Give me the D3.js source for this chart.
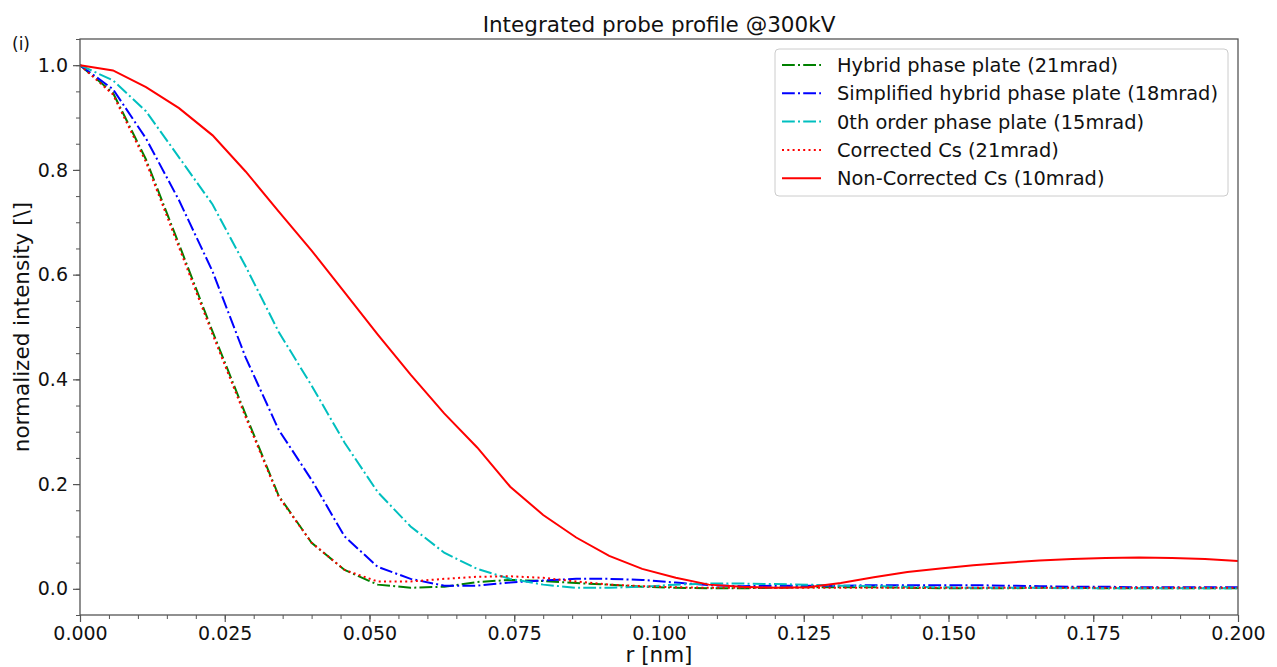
<!DOCTYPE html>
<html>
<head>
<meta charset="utf-8">
<script src="https://cdn.jsdelivr.net/npm/d3@7"></script>
<style>
  body { margin: 0; background: #fff; }
  svg { font-family: "DejaVu Sans", sans-serif; }
</style>
</head>
<body>
<svg id="chart" width="1277" height="667"></svg>
<script>
// radius samples (nm)
var rValues = [0, 0.0057, 0.0114, 0.0171, 0.0229, 0.0286, 0.0343, 0.04, 0.0457, 0.0514,
  0.0571, 0.0629, 0.0686, 0.0743, 0.08, 0.0857, 0.0914, 0.0971, 0.1029, 0.1086,
  0.1143, 0.12, 0.1257, 0.1314, 0.1371, 0.1429, 0.1486, 0.1543, 0.16, 0.1657,
  0.1714, 0.1771, 0.1829, 0.1886, 0.1943, 0.2];

var hybrid = [1.0, 0.947, 0.820, 0.658, 0.491, 0.333, 0.178, 0.088, 0.036, 0.008,
  0.002, 0.004, 0.013, 0.017, 0.015, 0.011, 0.008, 0.004, 0.002, 0.001,
  0.001, 0.002, 0.003, 0.003, 0.003, 0.002, 0.001, 0.001, 0.001, 0.002,
  0.002, 0.001, 0.001, 0.001, 0.001, 0.001];
var simplified = [1.0, 0.954, 0.860, 0.742, 0.606, 0.442, 0.304, 0.208, 0.100, 0.042,
  0.019, 0.006, 0.006, 0.012, 0.016, 0.019, 0.019, 0.017, 0.012, 0.007,
  0.005, 0.006, 0.006, 0.006, 0.007, 0.007, 0.007, 0.007, 0.006, 0.005,
  0.004, 0.004, 0.003, 0.003, 0.003, 0.003];
var zeroth = [1.0, 0.971, 0.912, 0.824, 0.734, 0.616, 0.491, 0.388, 0.279, 0.185,
  0.119, 0.069, 0.038, 0.019, 0.008, 0.002, 0.002, 0.004, 0.008, 0.010,
  0.010, 0.009, 0.008, 0.006, 0.005, 0.004, 0.003, 0.002, 0.002, 0.002,
  0.001, 0.001, 0.001, 0.001, 0.001, 0.001];
var correctedCs = [1.0, 0.944, 0.815, 0.652, 0.486, 0.328, 0.176, 0.088, 0.036, 0.014,
  0.014, 0.019, 0.023, 0.024, 0.021, 0.014, 0.008, 0.005, 0.003, 0.002,
  0.002, 0.002, 0.002, 0.002, 0.002, 0.002, 0.002, 0.002, 0.002, 0.002,
  0.002, 0.002, 0.002, 0.002, 0.002, 0.002];
var nonCorrectedCs = [1.0, 0.990, 0.958, 0.918, 0.866, 0.797, 0.721, 0.646, 0.566, 0.486,
  0.409, 0.335, 0.270, 0.195, 0.141, 0.098, 0.063, 0.038, 0.021, 0.008,
  0.004, 0.002, 0.003, 0.011, 0.022, 0.032, 0.039, 0.045, 0.050, 0.054,
  0.057, 0.059, 0.060, 0.059, 0.057, 0.053];

var seriesNames = ["Hybrid phase plate (21mrad)", "Simplified hybrid phase plate (18mrad)",
  "0th order phase plate (15mrad)", "Corrected Cs (21mrad)", "Non-Corrected Cs (10mrad)"];
var seriesColors = ["#008000", "#0000ff", "#00bfbf", "#ff0000", "#ff0000"];
var seriesDash = ["12.8,3.2,2,3.2", "12.8,3.2,2,3.2", "12.8,3.2,2,3.2", "2,3.3", null];

var xTicks = [0, 0.025, 0.05, 0.075, 0.1, 0.125, 0.15, 0.175, 0.2];
var yTicks = [0, 0.2, 0.4, 0.6, 0.8, 1.0];

var allSeries = [hybrid, simplified, zeroth, correctedCs, nonCorrectedCs];

(function () {
  var svg = d3.select("#chart");
  var pL = 80, pR = 1238, pT = 39, pB = 615;

  var x = d3.scaleLinear().domain([0, 0.2]).range([pL, pR]);
  var y = d3.scaleLinear().domain([-0.05, 1.05]).range([pB, pT]);

  svg.append("defs").append("clipPath").attr("id", "plotclip")
    .append("rect").attr("x", pL).attr("y", pT)
    .attr("width", pR - pL).attr("height", pB - pT);

  // lines
  var line = d3.line()
    .x(function (d) { return x(d[0]); })
    .y(function (d) { return y(d[1]); });

  var plot = svg.append("g").attr("clip-path", "url(#plotclip)");
  allSeries.forEach(function (vals, i) {
    var pts = rValues.map(function (r, j) { return [r, vals[j]]; });
    var p = plot.append("path")
      .attr("d", line(pts))
      .attr("fill", "none")
      .attr("stroke", seriesColors[i])
      .attr("stroke-width", 2);
    if (seriesDash[i]) p.attr("stroke-dasharray", seriesDash[i]);
  });

  // minor ticks
  var xMinor = d3.range(0, 41).map(function (k) { return k * 0.005; });
  var yMinor = d3.range(-1, 22).map(function (k) { return k * 0.05; });

  svg.append("g").attr("transform", "translate(0," + pB + ")")
    .call(d3.axisBottom(x).tickValues(xMinor).tickSize(4).tickFormat(""))
    .call(function (g) { g.select(".domain").remove(); g.selectAll("line").attr("stroke", "#555"); });
  svg.append("g").attr("transform", "translate(" + pL + ",0)")
    .call(d3.axisLeft(y).tickValues(yMinor).tickSize(4).tickFormat(""))
    .call(function (g) { g.select(".domain").remove(); g.selectAll("line").attr("stroke", "#555"); });

  // major ticks
  var xAxis = d3.axisBottom(x).tickValues(xTicks).tickFormat(d3.format(".3f"))
    .tickSize(7).tickPadding(5);
  var yAxis = d3.axisLeft(y).tickValues(yTicks).tickFormat(d3.format(".1f"))
    .tickSize(7).tickPadding(5);

  var gx = svg.append("g").attr("transform", "translate(0," + pB + ")").call(xAxis);
  var gy = svg.append("g").attr("transform", "translate(" + pL + ",0)").call(yAxis);
  [gx, gy].forEach(function (g) {
    g.select(".domain").remove();
    g.selectAll("line").attr("stroke", "#555").attr("stroke-width", 1.2);
    g.selectAll("text").attr("font-size", 19).attr("fill", "#111")
      .attr("font-family", "DejaVu Sans");
  });

  // frame
  svg.append("rect").attr("x", pL).attr("y", pT)
    .attr("width", pR - pL).attr("height", pB - pT)
    .attr("fill", "none").attr("stroke", "#555").attr("stroke-width", 1.3);

  // title & labels
  svg.append("text").attr("x", (pL + pR) / 2).attr("y", 32)
    .attr("text-anchor", "middle").attr("font-size", 21.5).attr("fill", "#111")
    .text("Integrated probe profile @300kV");
  svg.append("text").attr("x", (pL + pR) / 2).attr("y", 662)
    .attr("text-anchor", "middle").attr("font-size", 21.5).attr("fill", "#111")
    .text("r [nm]");
  svg.append("text")
    .attr("transform", "translate(29," + ((pT + pB) / 2) + ") rotate(-90)")
    .attr("text-anchor", "middle").attr("font-size", 21.5).attr("fill", "#111")
    .text("normalized intensity [\\]");
  svg.append("text").attr("x", 12).attr("y", 50)
    .attr("font-size", 17).attr("fill", "#111").text("(i)");

  // legend
  var lg = svg.append("g");
  lg.append("rect").attr("x", 775).attr("y", 49).attr("width", 453).attr("height", 147)
    .attr("rx", 4).attr("fill", "#fff").attr("fill-opacity", 0.8)
    .attr("stroke", "#ccc").attr("stroke-width", 1);
  seriesNames.forEach(function (name, i) {
    var cy = 65 + i * 28.3;
    var l = lg.append("line").attr("x1", 782).attr("x2", 821).attr("y1", cy).attr("y2", cy)
      .attr("stroke", seriesColors[i]).attr("stroke-width", 2);
    if (seriesDash[i]) l.attr("stroke-dasharray", seriesDash[i]);
    lg.append("text").attr("x", 837).attr("y", cy + 7)
      .attr("font-size", 19.4).attr("fill", "#111").text(name);
  });
})();
</script>
</body>
</html>
